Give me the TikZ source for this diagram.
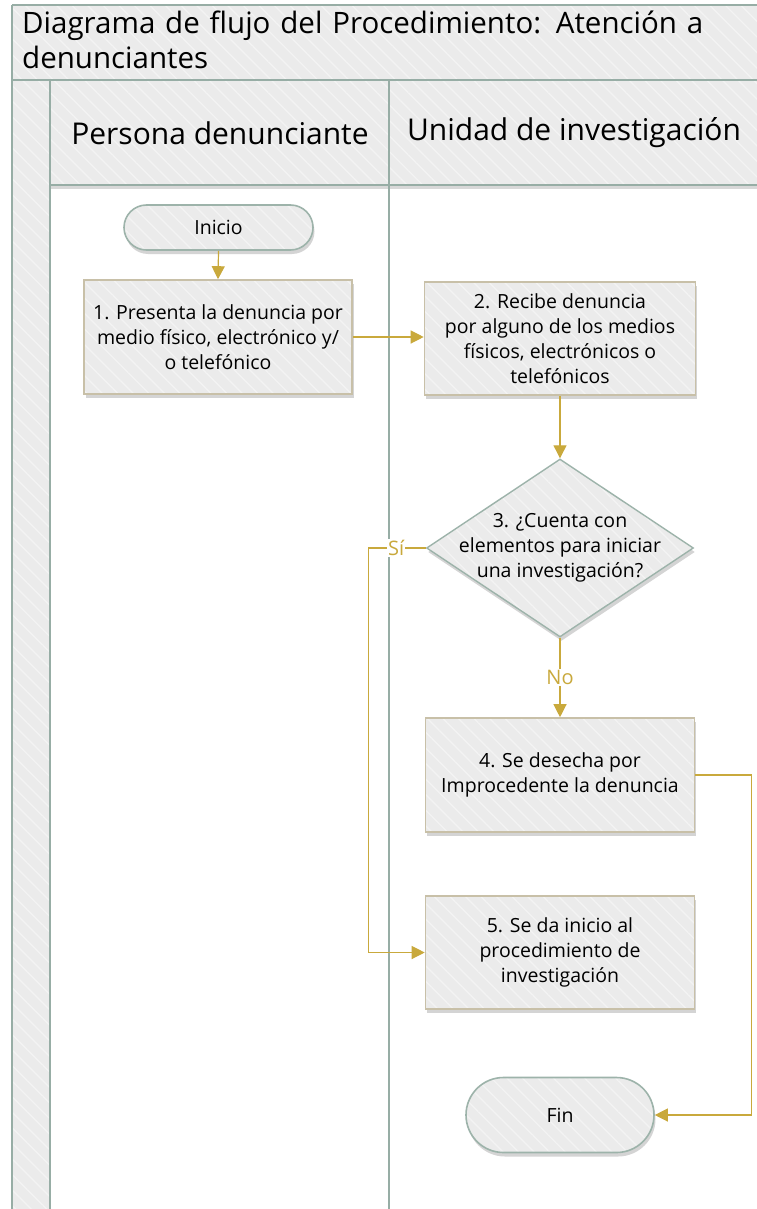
\documentclass[tikz,border=0pt]{standalone}
\usepackage{fontspec}
\setmainfont{Open Sans}
\usetikzlibrary{arrows.meta,shapes.geometric,shapes.misc,shadows,patterns.meta}
\definecolor{gold}{HTML}{C9A93C}
\definecolor{laneline}{HTML}{97ADA5}
\definecolor{tan}{HTML}{C8C0A8}
\definecolor{termline}{HTML}{9DB3AA}
\definecolor{panel}{HTML}{EBEBEB}
\definecolor{hatchc}{HTML}{F3F3F3}
\begin{document}
\begin{tikzpicture}[x=1pt,y=-1pt,
  shad/.style={drop shadow={shadow xshift=1.5pt, shadow yshift=-4pt, opacity=0.3, fill=black!55}},
  hatch/.style={preaction={fill=panel}, pattern={Lines[angle=-45,distance=11pt,line width=1.4pt]}, pattern color=hatchc},
  txt/.style={font=\fontsize{19.5}{25}\selectfont, align=center, text=black},
  procbox/.style={rectangle, shad, hatch, draw=tan, line width=1.6pt, txt, minimum width=268pt, minimum height=114pt, inner sep=0pt},
  term/.style={rounded rectangle, shad, hatch, draw=termline, line width=1.6pt, txt, inner sep=0pt},
  decision/.style={diamond, shad, hatch, draw=termline, line width=1.4pt, minimum width=267pt, minimum height=178pt, inner sep=0pt},
  flow/.style={draw=gold, line width=1.2pt, -{Triangle[width=13pt,length=13pt]}},
  lbl/.style={font=\fontsize{20}{22}\selectfont, text=gold, fill=white, inner sep=1pt},
  lane/.style={draw=laneline, line width=2pt},
  hdr/.style={font=\fontsize{30}{34}\selectfont, text=black}
]
\useasboundingbox (0,0) rectangle (756,1209);
\fill[white] (0,0) rectangle (756,1209);
% title band, left strip, header
\path[hatch] (12,5) rectangle (760,80);
\path[hatch] (12,80) rectangle (50,1212);
\path[drop shadow={shadow xshift=0pt, shadow yshift=-4pt, opacity=0.3, fill=black!50}, hatch] (50,80) rectangle (760,185);
% frame lines
\draw[lane] (12,5) -- (760,5);
\draw[lane] (12,5) -- (12,1212);
\draw[lane] (12,80) -- (760,80);
\draw[lane] (50,80) -- (50,1212);
\draw[lane] (389,80) -- (389,1212);
\draw[lane] (50,185) -- (760,185);

\node[anchor=north west, inner sep=0pt, align=left, font=\fontsize{29.5}{35}\selectfont, text width=730pt] (title) at (22,11)
  {Diagrama de flujo del Procedimiento: Atención a\\denunciantes};
\node[hdr] (h1) at (220,133) {Persona denunciante};
\node[hdr] (h2) at (574,133) {Unidad de investigación};

% nodes
\node[term, minimum width=189pt, minimum height=45pt] (inicio) at (218.5,227.5) {Inicio};
\node[procbox] (b1) at (218,337) {1. Presenta la denuncia por\\medio físico, electrónico y/\\o telefónico};
\node[procbox, minimum width=271pt, minimum height=113pt] (b2) at (560,338.5) {2. Recibe denuncia\\por alguno de los medios\\físicos, electrónicos o\\telefónicos};
\node[decision] (d3) at (560,548) {};
\node[txt] (d3t) at (560,548) {3. ¿Cuenta con\\elementos para iniciar\\una investigación?};
\node[procbox, minimum width=269pt] (b4) at (560,775) {4. Se desecha por\\Improcedente la denuncia};
\node[procbox, minimum width=269pt, minimum height=113pt] (b5) at (560,952.5) {5. Se da inicio al\\procedimiento de\\investigación};
\node[term, minimum width=188pt, minimum height=75pt] (fin) at (560,1115) {Fin};

% connectors
\draw[flow] (inicio.south) -- (b1.north);
\draw[flow] (b1.east) -- (b1.east -| b2.west);
\draw[flow] (b2.south) -- (d3.north);
\draw[flow] (d3.south) -- node[lbl]{No} (b4.north);
\draw[flow] (d3.west) -- node[lbl, pos=0.52]{Sí} ++(-57,0) |- (b5.west);
\draw[flow] (b4.east) -- ++(56,0) |- (fin.east);
\end{tikzpicture}
\end{document}
